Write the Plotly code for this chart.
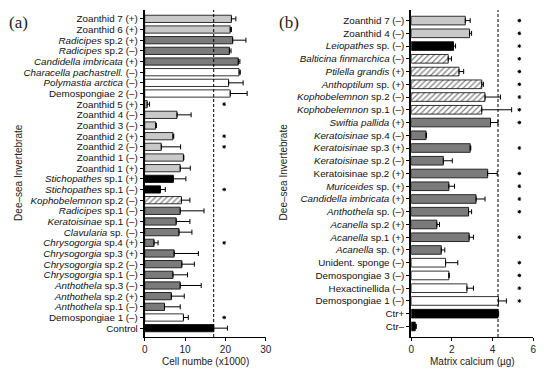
import plotly.graph_objects as go

# ---------------- Panel (a): cell number (x1000) ----------------
a_labels = [
    "Zoanthid 7 (+)", "Zoanthid 6 (+)", "<i>Radicipes</i> sp.2 (+)", "<i>Radicipes</i> sp.2 (–)",
    "<i>Candidella imbricata</i> (+)", "<i>Characella pachastrell.</i> (–)", "<i>Polymastia arctica</i> (–)",
    "Demospongiae 2 (–)", "Zoanthid 5 (+)", "Zoanthid 4 (–)", "Zoanthid 3 (–)", "Zoanthid 2 (+)",
    "Zoanthid 2 (–)", "Zoanthid 1 (–)", "Zoanthid 1 (+)", "<i>Stichopathes</i> sp.1 (+)",
    "<i>Stichopathes</i> sp.1 (–)", "<i>Kophobelemnon</i> sp.2 (–)", "<i>Radicipes</i> sp.1 (–)",
    "<i>Keratoisinae</i> sp.1 (–)", "<i>Clavularia</i> sp. (–)", "<i>Chrysogorgia</i> sp.4 (+)",
    "<i>Chrysogorgia</i> sp.3 (+)", "<i>Chrysogorgia</i> sp.2 (–)", "<i>Chrysogorgia</i> sp.1 (–)",
    "<i>Anthothela</i> sp.3 (–)", "<i>Anthothela</i> sp.2 (+)", "<i>Anthothela</i> sp.1 (–)",
    "Demospongiae 1 (–)", "Control",
]
a_values = [21.5, 21.2, 21.8, 21.0, 23.2, 23.4, 20.8, 21.2, 0.6, 8.0, 2.7, 7.0, 4.1, 9.6, 8.8,
            7.1, 3.9, 9.1, 8.8, 7.8, 8.5, 2.3, 7.3, 9.2, 7.0, 8.8, 6.6, 4.9, 9.6, 17.1]
a_errors = [1.1, 0.3, 3.3, 0.4, 0.4, 0.3, 3.6, 4.2, 0.6, 3.5, 0.2, 0.2, 4.8, 0.1, 2.5,
            3.1, 1.2, 2.1, 5.9, 3.4, 3.2, 1.0, 6.0, 3.1, 3.6, 5.2, 3.2, 3.9, 1.2, 3.4]
a_groups = ["zoanthid", "zoanthid", "octocoral", "octocoral", "octocoral", "sponge", "sponge",
            "sponge", "zoanthid", "zoanthid", "zoanthid", "zoanthid", "zoanthid", "zoanthid",
            "zoanthid", "antipatharian", "antipatharian", "pennatulacean", "octocoral",
            "octocoral", "octocoral", "octocoral", "octocoral", "octocoral", "octocoral",
            "octocoral", "octocoral", "octocoral", "sponge", "control"]
a_signif = [0, 0, 0, 0, 0, 0, 0, 0, 1, 0, 0, 1, 1, 0, 0, 0, 1, 0, 0, 0, 0, 1, 0, 0, 0, 0, 0, 0, 1, 0]
a_ticks = [0, 10, 20, 30]

# ---------------- Panel (b): matrix calcium (µg) ----------------
b_labels = [
    "Zoanthid 7 (–)", "Zoanthid 4 (–)", "<i>Leiopathes</i> sp. (–)", "<i>Balticina finmarchica</i> (–)",
    "<i>Ptilella grandis</i> (+)", "<i>Anthoptilum</i> sp. (+)", "<i>Kophobelemnon</i> sp.2 (–)",
    "<i>Kophobelemnon</i> sp.1 (–)", "<i>Swiftia pallida</i> (+)", "<i>Keratoisinae</i> sp.4 (–)",
    "<i>Keratoisinae</i> sp.3 (+)", "<i>Keratoisinae</i> sp.2 (–)", "Keratoisinae sp.2 (+)",
    "<i>Muriceides</i> sp. (+)", "<i>Candidella imbricata</i> (+)", "<i>Anthothela</i> sp. (–)",
    "<i>Acanella</i> sp.2 (+)", "<i>Acanella</i> sp.1 (+)", "<i>Acanella</i> sp. (+)",
    "Unident. sponge (–)", "Demospongiae 3 (–)", "Hexactinellida (–)", "Demospongiae 1 (–)",
    "Ctr+", "Ctr–",
]
b_values = [2.66, 2.87, 2.08, 1.82, 2.35, 3.47, 3.63, 3.47, 3.90, 0.73, 2.90, 1.58, 3.76,
            1.85, 3.19, 2.82, 1.26, 2.85, 1.48, 1.69, 1.85, 2.74, 4.29, 4.27, 0.20]
b_errors = [0.24, 0.10, 0.10, 0.16, 0.23, 0.08, 0.76, 1.47, 0.37, 0.02, 0.03, 0.44, 0.47,
            0.28, 0.44, 0.15, 0.13, 0.21, 0.17, 0.60, 0.02, 0.32, 0.39, 0.03, 0.05]
b_groups = ["zoanthid", "zoanthid", "antipatharian", "pennatulacean", "pennatulacean",
            "pennatulacean", "pennatulacean", "pennatulacean", "octocoral", "octocoral",
            "octocoral", "octocoral", "octocoral", "octocoral", "octocoral", "octocoral",
            "octocoral", "octocoral", "octocoral", "sponge", "sponge", "sponge", "sponge",
            "control", "control"]
b_signif = [1, 1, 1, 1, 1, 1, 1, 1, 1, 0, 1, 0, 1, 1, 1, 1, 0, 1, 0, 1, 1, 1, 1, 0, 0]
b_ticks = [0, 2, 4, 6]

# ---------------- styles ----------------
STYLE = {
    "zoanthid": dict(color="#c9c9c9", pattern=""),
    "octocoral": dict(color="#7b7b7b", pattern=""),
    "sponge": dict(color="#ffffff", pattern=""),
    "antipatharian": dict(color="#000000", pattern=""),
    "pennatulacean": dict(color="#ffffff", pattern="/"),
    "control": dict(color="#000000", pattern=""),
}
FONT = "Liberation Sans, Arial, sans-serif"
PAGE_W, PAGE_H = 550, 371
OFF = 8  # default page body margin
W, H = PAGE_W - OFF, PAGE_H - OFF


def px_x(p):
    return (p - OFF) / W


def px_y(p):
    return 1 - (p - OFF) / H


fig = go.Figure()


def add_panel(labels, values, errors, groups, signif, xa, ya, star_x):
    for g, st in STYLE.items():
        idx = [i for i, gg in enumerate(groups) if gg == g]
        if not idx:
            continue
        marker = dict(color=st["color"], line=dict(color="black", width=0.8))
        if st["pattern"]:
            marker["pattern"] = dict(shape=st["pattern"], fgcolor="black", bgcolor="white",
                                     size=4, solidity=0.3, fillmode="overlay")
        fig.add_trace(go.Bar(
            x=[values[i] for i in idx], y=[labels[i] for i in idx], orientation="h",
            marker=marker, width=0.68, xaxis=xa, yaxis=ya, showlegend=False,
            error_x=dict(type="data", array=[errors[i] for i in idx],
                         arrayminus=[0] * len(idx), symmetric=False,
                         color="black", thickness=1, width=2.5),
        ))
    sy = [labels[i] for i, s in enumerate(signif) if s]
    fig.add_trace(go.Scatter(
        x=[star_x] * len(sy), y=sy, mode="markers", xaxis=xa, yaxis=ya, showlegend=False,
        marker=dict(symbol="asterisk-open", size=3, color="black", line=dict(width=1, color="black")),
    ))


add_panel(a_labels, a_values, a_errors, a_groups, a_signif, "x", "y", 19.7)
add_panel(b_labels, b_values, b_errors, b_groups, b_signif, "x2", "y2", 5.32)

ydom = [px_y(337), px_y(10)]
common_x = dict(showline=True, linecolor="black", linewidth=1, ticks="outside", ticklen=3,
                tickcolor="black", showgrid=False, zeroline=False,
                tickfont=dict(family=FONT, size=10, color="#222"))
common_y = dict(type="category", showline=True, linecolor="black", linewidth=2,
                ticks="outside", ticklen=3, tickcolor="black", showgrid=False, zeroline=False,
                tickmode="array", tickfont=dict(family=FONT, size=9.8, color="#111"))

fig.update_layout(
    width=W, height=H, margin=dict(l=0, r=0, t=0, b=0),
    plot_bgcolor="white", paper_bgcolor="white", barmode="overlay",
    xaxis=dict(domain=[px_x(144), px_x(267)], range=[0, 30], tickvals=a_ticks, anchor="y", **common_x),
    yaxis=dict(domain=ydom, categoryorder="array", categoryarray=a_labels,
               tickvals=a_labels, ticktext=a_labels,
               range=[len(a_labels) - 1 + 0.83, -0.83], anchor="x", **common_y),
    xaxis2=dict(domain=[px_x(415), px_x(539)], range=[0, 6], tickvals=b_ticks, anchor="y2", **common_x),
    yaxis2=dict(domain=ydom, categoryorder="array", categoryarray=b_labels,
                tickvals=b_labels, ticktext=b_labels,
                range=[len(b_labels) - 1 + 0.83, -0.83], anchor="x2", **common_y),
)

# dashed reference lines at the control level
fig.add_shape(type="line", xref="x", yref="y domain", x0=a_values[-1], x1=a_values[-1], y0=0, y1=1,
              line=dict(color="black", width=1, dash="3px,2px"))
fig.add_shape(type="line", xref="x2", yref="y2 domain", x0=b_values[-2], x1=b_values[-2], y0=0, y1=1,
              line=dict(color="black", width=1, dash="3px,2px"))


def label(text, px, py, font, angle=0):
    fig.add_annotation(text=text, x=px_x(px), y=px_y(py), xref="paper", yref="paper",
                       xanchor="center", yanchor="middle", textangle=angle,
                       showarrow=False, font=font)


ann_font = dict(family=FONT, size=10, color="#222")
serif = dict(family="Liberation Serif, Times New Roman, serif", size=17, color="#222")
label("(a)", 16, 23, serif)
label("(b)", 291, 23, serif)
label("Dee–sea Invertebrate", 15, 172, ann_font, -90)
label("Dee–sea Invertebrate", 285, 172, ann_font, -90)
label("Cell numbe (x1000)", 205.5, 361.5, ann_font)
label("Matrix calcium (µg)", 477, 361.5, ann_font)

fig.write_html("out.html")
